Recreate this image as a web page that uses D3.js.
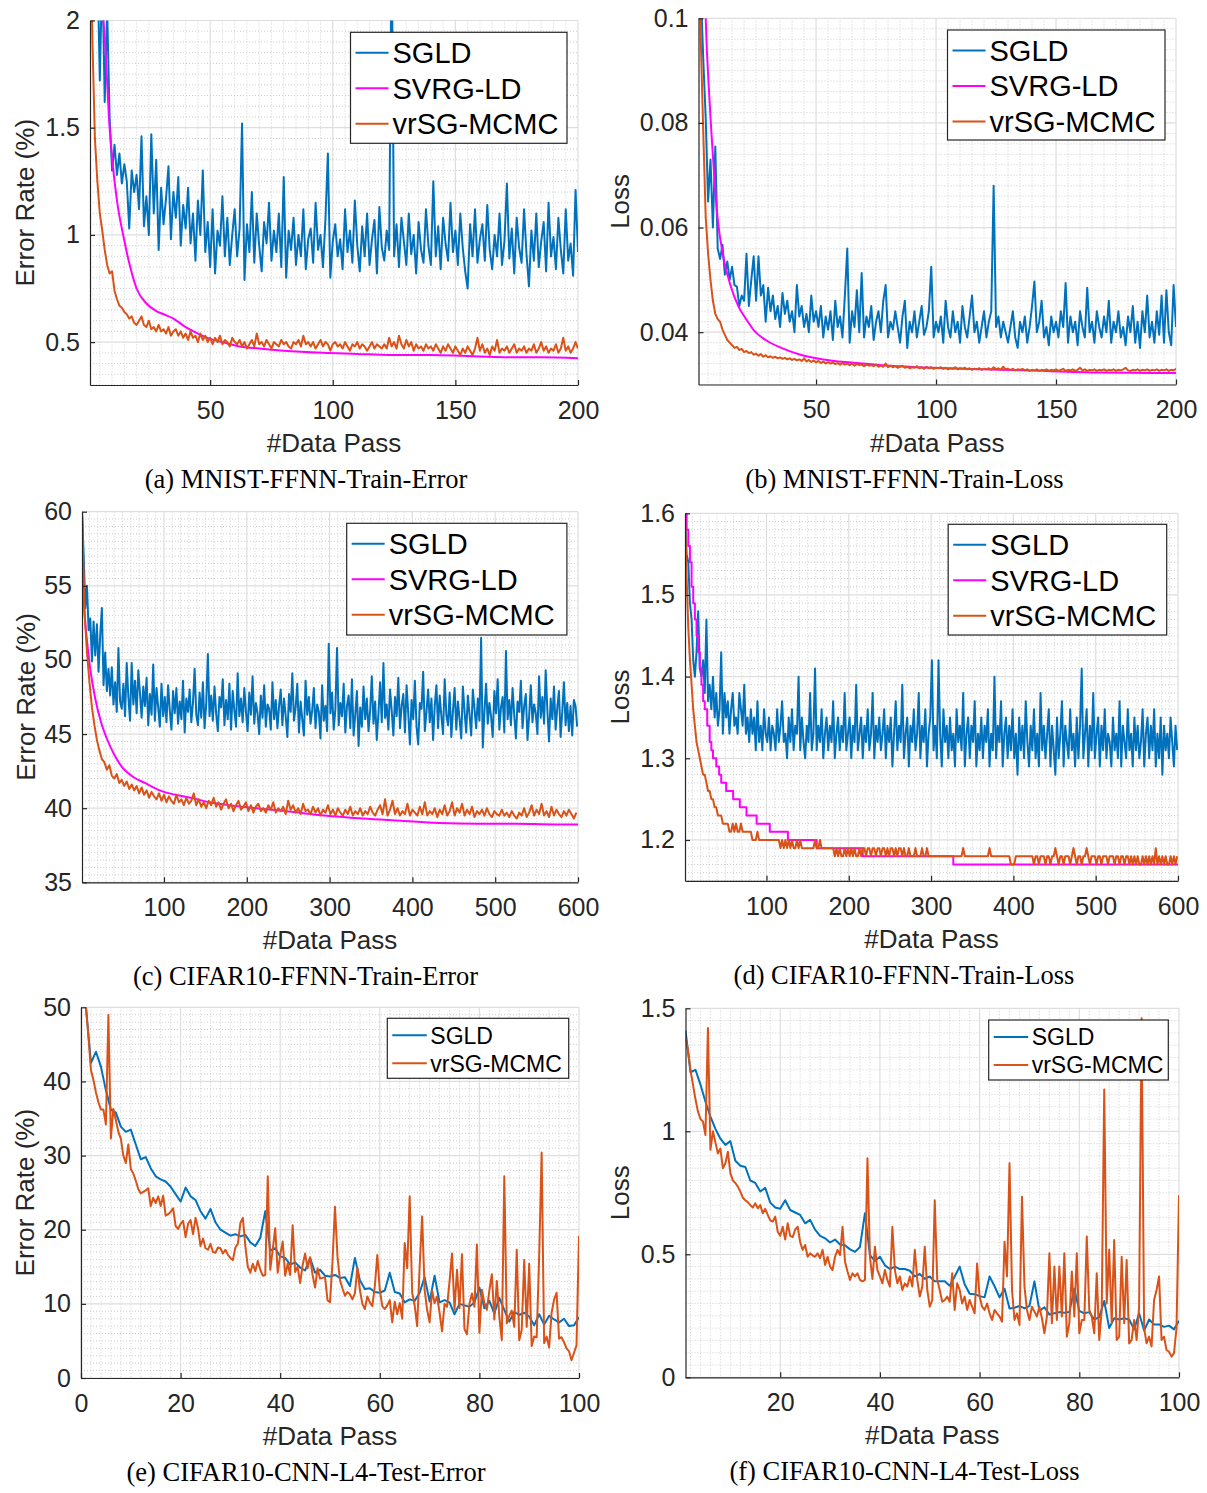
<!DOCTYPE html>
<html>
<head>
<meta charset="utf-8">
<script src="https://cdn.jsdelivr.net/npm/d3@7"></script>
<style>
  body { margin: 0; background: #fff; }
  svg { display: block; }
</style>
</head>
<body>
<script>
// ---------- data ----------
const seriesNames = ["SGLD", "SVRG-LD", "vrSG-MCMC"];

// (a) MNIST-FFNN-Train-Error, one value per data pass (1..200)
const aSgld = [
  3.6, 3.1, 2.7, 2.3, 1.72, 2.25, 1.62, 2.05, 1.55, 1.3,
  1.42, 1.28, 1.38, 1.24, 1.33, 1.25, 1.03, 1.3, 1.2, 1.28,
  1.12, 1.46, 1.04, 1.18, 1.0, 1.47, 1.1, 1.35, 0.93, 1.22,
  1.05, 1.17, 1.32, 0.98, 1.2, 1.08, 1.27, 0.95, 1.14, 1.03,
  1.22, 0.96, 1.1, 0.88, 1.16, 1.0, 1.3, 0.92, 1.06, 0.85,
  1.12, 0.82, 1.02, 0.95, 1.18, 0.9, 1.08, 0.86, 1.0, 1.12,
  0.9, 1.03, 1.52, 0.79, 1.05, 0.92, 1.2, 0.87, 1.1, 0.95,
  0.83, 1.06, 0.96, 1.15, 0.88, 1.02, 0.92, 1.1, 0.85, 1.27,
  0.8, 1.02, 0.93, 1.08, 0.86, 1.0, 0.9, 1.12, 0.84, 0.98,
  1.03, 0.87, 1.15, 0.93, 1.0, 0.85, 1.07, 1.38, 0.8, 0.97,
  1.05, 0.9, 0.98, 0.84, 1.12, 0.92, 1.02, 0.87, 1.16, 0.95,
  0.83, 1.04, 0.9, 1.1, 0.86, 0.98, 1.07, 0.82, 1.13, 0.94,
  0.88, 1.02, 0.93, 2.4, 0.9, 1.05, 0.85, 1.08, 0.97, 0.86,
  1.1, 0.91, 1.0, 0.82, 1.06, 0.93, 0.87, 1.12, 0.95, 0.86,
  1.25, 0.9, 1.04, 0.84, 1.08, 0.96, 0.88, 1.15, 0.92, 1.02,
  0.86, 1.1, 0.94, 0.83, 0.75, 1.05, 0.9, 1.12, 0.87, 0.98,
  1.05, 0.88, 1.14, 0.93, 0.84, 1.0, 0.9, 1.1, 0.86, 0.97,
  1.24, 0.89, 1.03, 0.82, 1.08, 0.94, 0.87, 1.12, 0.91, 0.76,
  1.02, 0.88, 1.1, 0.85, 0.97, 1.06, 0.83, 1.15, 0.9, 0.99,
  0.84, 1.08, 0.93, 0.82, 1.12, 0.88, 0.96, 0.81, 1.21, 0.92
];
const aVr = [
  2.6, 1.9, 1.45, 1.25, 1.1, 1.02, 0.93, 0.86, 0.82, 0.83,
  0.74, 0.7, 0.67, 0.66, 0.64, 0.63, 0.61, 0.62, 0.59, 0.58,
  0.6, 0.62, 0.58, 0.57, 0.6, 0.56, 0.57, 0.55, 0.58, 0.55,
  0.56, 0.54, 0.57, 0.53, 0.55, 0.56, 0.53, 0.55, 0.52, 0.54,
  0.51, 0.55, 0.52, 0.53, 0.5, 0.54, 0.51, 0.53, 0.5, 0.52,
  0.49, 0.52, 0.5, 0.53, 0.49, 0.51, 0.5, 0.48, 0.52, 0.5,
  0.49, 0.51, 0.48, 0.5, 0.47, 0.49, 0.51, 0.48, 0.54, 0.49,
  0.5, 0.48, 0.51, 0.49, 0.47, 0.5, 0.49, 0.48, 0.51, 0.49,
  0.5, 0.48, 0.47, 0.5, 0.49, 0.51, 0.48, 0.53, 0.49, 0.5,
  0.48, 0.5, 0.47, 0.49, 0.51, 0.48, 0.5, 0.49, 0.46, 0.49,
  0.5, 0.48, 0.49, 0.47, 0.5, 0.48, 0.46, 0.49, 0.48, 0.5,
  0.47, 0.49, 0.48, 0.46, 0.48, 0.5, 0.47, 0.49, 0.48, 0.47,
  0.49, 0.47, 0.52, 0.48, 0.5, 0.47, 0.53, 0.49, 0.47, 0.51,
  0.48, 0.5, 0.46, 0.49, 0.47, 0.48, 0.46, 0.49, 0.47, 0.48,
  0.46, 0.49, 0.47, 0.45, 0.48, 0.46, 0.49, 0.47, 0.45, 0.48,
  0.46, 0.44, 0.47, 0.45, 0.48, 0.46, 0.44, 0.47, 0.52, 0.46,
  0.49, 0.45, 0.47, 0.44, 0.48, 0.46, 0.51, 0.45, 0.47, 0.46,
  0.48, 0.45, 0.47, 0.49, 0.45, 0.47, 0.46, 0.48, 0.45, 0.47,
  0.46, 0.49, 0.45, 0.47, 0.5, 0.46, 0.48, 0.45, 0.47, 0.46,
  0.49, 0.45, 0.47, 0.52, 0.46, 0.48, 0.45, 0.47, 0.5, 0.47
];
const aSvrgX = [1, 3, 5, 6.5, 7.4, 8.7, 10.1, 12, 14.7, 17.4, 20, 24, 28, 31, 35, 40, 45, 50, 55, 62, 70, 80, 96, 110, 123, 140, 155, 170, 185, 200];
const aSvrgY = [5, 3.2, 2.35, 2.0, 1.85, 1.55, 1.35, 1.16, 0.99, 0.85, 0.75, 0.68, 0.645, 0.63, 0.61, 0.57, 0.54, 0.515, 0.5, 0.48, 0.47, 0.46, 0.45, 0.445, 0.44, 0.44, 0.435, 0.43, 0.43, 0.425];

// (b) MNIST-FFNN-Train-Loss, per data pass (1..200)
const bSgld = [
  0.125, 0.105, 0.092, 0.081, 0.065, 0.073, 0.06, 0.0755, 0.056, 0.054,
  0.0567, 0.051, 0.0535, 0.05, 0.0525, 0.049, 0.0487, 0.045, 0.047, 0.046,
  0.055, 0.045, 0.05, 0.0545, 0.046, 0.0545, 0.047, 0.049, 0.042, 0.0485,
  0.044, 0.047, 0.0425, 0.045, 0.041, 0.0475, 0.0435, 0.046, 0.042, 0.044,
  0.04, 0.049, 0.043, 0.045, 0.041, 0.0435, 0.04, 0.047, 0.042, 0.044,
  0.041, 0.045, 0.039, 0.043, 0.0405, 0.044, 0.0385, 0.046, 0.041, 0.043,
  0.039, 0.047, 0.056, 0.038, 0.044, 0.041, 0.048, 0.04, 0.0513, 0.039,
  0.043, 0.041, 0.045, 0.0385, 0.042, 0.044, 0.04, 0.046, 0.049, 0.039,
  0.042, 0.0405, 0.044, 0.041, 0.038, 0.043, 0.046, 0.037, 0.042, 0.04,
  0.044, 0.039, 0.042, 0.045, 0.0395, 0.041, 0.044, 0.0525, 0.039, 0.042,
  0.04, 0.043, 0.038, 0.046, 0.041, 0.039, 0.044, 0.04, 0.042, 0.038,
  0.045, 0.041, 0.039, 0.043, 0.047, 0.04, 0.042, 0.038, 0.041, 0.044,
  0.039, 0.042, 0.044, 0.068, 0.041, 0.043, 0.039, 0.042, 0.04, 0.038,
  0.041, 0.044, 0.039, 0.037, 0.042, 0.04, 0.043, 0.038, 0.041, 0.045,
  0.0497, 0.04, 0.042, 0.046, 0.039, 0.041, 0.0375, 0.043, 0.04, 0.042,
  0.039, 0.044, 0.041, 0.0494, 0.038, 0.043, 0.04, 0.042, 0.0375, 0.044,
  0.041, 0.039, 0.0485, 0.04, 0.042, 0.038, 0.044, 0.041, 0.039, 0.043,
  0.04, 0.046, 0.038, 0.042, 0.04, 0.044, 0.039, 0.041, 0.0375, 0.043,
  0.04, 0.045, 0.038, 0.042, 0.037, 0.044, 0.04, 0.047, 0.039, 0.042,
  0.038, 0.044, 0.0395, 0.047, 0.038, 0.048, 0.04, 0.0375, 0.049, 0.041
];
const bVr = [
  0.13, 0.095, 0.078, 0.062, 0.055, 0.05, 0.046, 0.0435, 0.0425, 0.042,
  0.0405, 0.0395, 0.0385, 0.038, 0.0375, 0.037, 0.0372, 0.0366, 0.0368, 0.0362,
  0.0364, 0.0360, 0.0362, 0.0357, 0.0359, 0.0355, 0.0358, 0.0353, 0.0356, 0.0352,
  0.0354, 0.0351, 0.0353, 0.0350, 0.0352, 0.0349, 0.0351, 0.0348, 0.0350, 0.0347,
  0.0349, 0.0346, 0.0348, 0.0345, 0.0350, 0.0344, 0.0347, 0.0343, 0.0346, 0.0342,
  0.0345, 0.0341, 0.0344, 0.0340, 0.0343, 0.0340, 0.0342, 0.0339, 0.0341, 0.0338,
  0.0341, 0.0338, 0.0340, 0.0337, 0.0340, 0.0336, 0.0339, 0.0337, 0.0338, 0.0335,
  0.0338, 0.0336, 0.0337, 0.0335, 0.0338, 0.0334, 0.0336, 0.0334, 0.0340, 0.0333,
  0.0336, 0.0333, 0.0335, 0.0332, 0.0334, 0.0336, 0.0332, 0.0334, 0.0331, 0.0333,
  0.0332, 0.0335, 0.0331, 0.0333, 0.0330, 0.0334, 0.0331, 0.0333, 0.0330, 0.0332,
  0.0331, 0.0333, 0.0330, 0.0332, 0.0329, 0.0331, 0.0330, 0.0333, 0.0329, 0.0331,
  0.0330, 0.0332, 0.0329, 0.0331, 0.0328, 0.0330, 0.0329, 0.0331, 0.0328, 0.0330,
  0.0329, 0.0331, 0.0328, 0.0333, 0.0329, 0.0331, 0.0328, 0.0334, 0.0329, 0.0330,
  0.0328, 0.0330, 0.0327, 0.0329, 0.0328, 0.0330, 0.0327, 0.0329, 0.0326, 0.0328,
  0.0327, 0.0329, 0.0326, 0.0328, 0.0327, 0.0329, 0.0326, 0.0328, 0.0327, 0.0329,
  0.0326, 0.0328, 0.0330, 0.0326, 0.0328, 0.0327, 0.0329, 0.0326, 0.0328, 0.0332,
  0.0327, 0.0329, 0.0326, 0.0328, 0.0327, 0.0329, 0.0326, 0.0328, 0.0327, 0.0329,
  0.0326, 0.0328, 0.0327, 0.0329, 0.0326, 0.0328, 0.0327, 0.0329, 0.0332, 0.0327,
  0.0326, 0.0328, 0.0327, 0.0329, 0.0326, 0.0328, 0.0327, 0.0329, 0.0326, 0.0328,
  0.0327, 0.0329, 0.0326, 0.0328, 0.0327, 0.0329, 0.0326, 0.0328, 0.0327, 0.0330
];
const bSvrgX = [1, 3, 4, 5.6, 7.3, 8.9, 11.3, 14.5, 17.7, 21, 24, 29, 35.5, 43.5, 53, 64.5, 80.6, 105, 137, 169, 200];
const bSvrgY = [0.2, 0.12, 0.1, 0.0844, 0.0717, 0.0621, 0.0545, 0.0487, 0.0449, 0.0424, 0.0404, 0.0385, 0.037, 0.0357, 0.0348, 0.0342, 0.0336, 0.0331, 0.0327, 0.0323, 0.0322];

// (c) CIFAR10-FFNN-Train-Error; SGLD every 2 passes from 1, vrSG every 3 passes from 1
const cSgld = [
  60, 57.1, 53.5, 55, 52, 52.8, 49.9, 52.6, 50.3, 52.4, 49.2, 51.7, 53.5, 48.3, 50.5, 47.9, 49.4, 47.6, 49.5, 47,
  48.5, 46.5, 50.8, 47.2, 46.7, 48.4, 46.2, 49.8, 47.5, 45.9, 49.8, 47, 48.6, 46.4, 49.3, 47.8, 46.1, 48.2, 46.9, 48.8,
  45.6, 47.7, 46.3, 49.7, 45.9, 48.1, 46.8, 45.5, 48.4, 46.2, 47.5, 45.8, 48.3, 46.6, 45.3, 47.9, 46.4, 48.1, 45.7, 47.2,
  46, 48.6, 45.1, 47.4, 46.5, 48, 45.8, 47.1, 49.4, 46.3, 45.6, 47.8, 46.1, 48.5, 45.4, 47, 50.4, 46.2, 47.6, 45.9,
  48.2, 46.4, 45.2, 47.5, 46.8, 48.7, 45.6, 47.3, 46, 48.4, 45.3, 47.9, 46.6, 45.5, 49.1, 46.2, 47.4, 45.8, 48.1, 46.5,
  45.2, 47.8, 46.3, 48.9, 45.7, 47.1, 46.4, 45, 47.6, 46.1, 48.3, 45.5, 47, 46.7, 45.3, 48.5, 46, 47.3, 45.4, 46.9,
  48, 45.6, 47.4, 46.2, 44.8, 47.7, 46.5, 49.1, 45.9, 46.8, 48.4, 45.1, 47.2, 46, 44.9, 48.6, 46.3, 47.5, 45.7, 46.6,
  48.1, 45.4, 47, 46.5, 44.7, 48.3, 45.9, 46.9, 45.2, 51.1, 46.4, 47.8, 45.3, 46.7, 50.8, 45.6, 47.1, 46.2, 48.4, 45.1,
  46.9, 47.6, 45.4, 48.7, 44.9, 46.3, 47.9, 44.2, 46.8, 45.5, 48.2, 46, 47.4, 45.2, 46.6, 48.9, 45.7, 47.2, 44.6, 46.4,
  48.5, 45.8, 49.8, 46.1, 47, 45.3, 48, 46.6, 44.9, 47.5, 46.2, 48.8, 45.4, 46.9, 47.7, 45.1, 48.3, 46.4, 44.3, 47.3,
  46, 48.6, 45.5, 44.3, 47.1, 46.7, 49.2, 45.2, 46.5, 48, 45.8, 47.4, 44.6, 46.9, 48.3, 45.4, 47.6, 46.2, 45, 48.7,
  46.3, 45.6, 47.8, 44.8, 46.6, 48.1, 45.3, 47.2, 46, 44.7, 48.2, 46.5, 45.1, 47.6, 46.3, 44.9, 48, 46.7, 45.4, 47.4,
  45.9, 51.5, 44.1, 46.5, 48.4, 45.7, 47.1, 46.2, 44.8, 47.9, 46.4, 48.7, 45.3, 46.8, 47.5, 45.1, 50.6, 46, 47.3, 45.6,
  48.1, 46.3, 44.7, 47.2, 46.5, 48.6, 45.4, 46.9, 47.7, 44.6, 46.2, 48.3, 45.8, 47, 46.4, 45, 48.9, 46.1, 47.5, 45.7,
  49.3, 46.6, 44.5, 47.4, 46, 48.2, 45.3, 46.8, 47.9, 44.8, 46.5, 48.5, 45.6, 47.1, 45.2, 46.9, 44.9, 47.3, 46.9, 45.5
];
const cVr = [
  60, 53.3, 50.5, 48.5, 46.8, 45.6, 44.6, 43.9, 43.3, 43.1, 42.6, 42.9, 42.2, 42.0, 42.3, 41.7, 41.9, 41.5, 41.8, 41.3,
  41.6, 41.2, 41.5, 41.0, 41.4, 40.9, 41.2, 40.7, 41.1, 40.8, 40.6, 41.0, 40.5, 40.9, 40.4, 40.8, 40.5, 40.3, 40.9, 40.4,
  40.6, 40.2, 40.7, 40.3, 40.5, 41.0, 40.2, 40.6, 40.1, 40.4, 40.0, 40.5, 40.2, 40.7, 40.1, 40.4, 39.9, 40.3, 40.6, 40.0,
  40.3, 39.8, 40.2, 40.5, 39.9, 40.1, 40.4, 39.8, 40.2, 39.7, 40.1, 40.3, 39.8, 40.0, 39.7, 40.2, 39.9, 40.4, 39.7, 40.0,
  39.8, 40.1, 39.6, 40.5, 39.9, 40.2, 39.7, 40.0, 39.6, 40.3, 39.8, 39.9, 39.6, 40.1, 39.7, 40.0, 39.5, 39.9, 39.7, 40.2,
  39.6, 39.9, 39.5, 40.0, 39.7, 39.5, 39.9, 39.6, 40.1, 39.5, 39.8, 39.6, 40.0, 39.5, 39.8, 39.6, 40.1, 39.7, 39.5, 39.9,
  40.2, 39.6, 40.6, 39.5, 39.9, 40.5, 39.6, 40.0, 39.5, 39.8, 39.6, 40.3, 39.5, 39.9, 39.7, 39.5, 40.1, 39.6, 40.4, 39.5,
  39.8, 39.6, 40.0, 39.4, 39.9, 39.6, 40.2, 39.5, 39.8, 40.4, 39.5, 40.0, 39.7, 40.3, 39.5, 39.9, 39.6, 40.1, 39.4, 39.8,
  39.6, 39.9, 39.5, 40.0, 39.6, 39.4, 39.8, 39.6, 39.5, 39.9, 39.5, 39.7, 39.4, 39.8, 39.5, 39.3, 39.7, 39.5, 40.0, 39.4,
  39.7, 40.2, 39.5, 39.9, 39.6, 40.3, 39.5, 39.8, 39.4, 40.1, 39.5, 39.9, 39.6, 39.4, 39.8, 39.5, 39.9, 39.6, 39.3, 39.7
];
const cSvrgX = [1, 3, 7.6, 12, 17, 24, 31, 40, 49, 63, 77, 95, 114, 132, 155, 202, 248, 294, 340, 386, 432, 479, 525, 571, 600];
const cSvrgY = [60, 54.4, 51, 49, 47.4, 45.8, 44.7, 43.6, 42.8, 42.1, 41.7, 41.2, 40.9, 40.7, 40.4, 40.05, 39.8, 39.5, 39.3, 39.15, 39.0, 38.95, 38.95, 38.9, 38.9];

// (d) CIFAR10-FFNN-Train-Loss; every 2 passes from 1 (values logged to 2 decimals)
const dSgld = [
  1.6, 1.55, 1.54, 1.49, 1.47, 1.42, 1.4, 1.43, 1.48, 1.41, 1.4, 1.42, 1.38, 1.47, 1.37, 1.39, 1.36, 1.4, 1.35, 1.38,
  1.34, 1.36, 1.43, 1.33, 1.38, 1.35, 1.37, 1.33, 1.36, 1.38, 1.34, 1.35, 1.33, 1.38, 1.36, 1.34, 1.39, 1.33, 1.35, 1.32,
  1.36, 1.33, 1.35, 1.31, 1.37, 1.32, 1.34, 1.31, 1.36, 1.33, 1.32, 1.35, 1.31, 1.34, 1.33, 1.31, 1.36, 1.32, 1.34, 1.37,
  1.32, 1.33, 1.3, 1.35, 1.32, 1.36, 1.31, 1.34, 1.33, 1.4, 1.31, 1.35, 1.32, 1.3, 1.34, 1.32, 1.38, 1.31, 1.33, 1.41,
  1.31, 1.34, 1.32, 1.36, 1.3, 1.33, 1.35, 1.31, 1.34, 1.32, 1.37, 1.3, 1.33, 1.35, 1.31, 1.34, 1.32, 1.38, 1.31, 1.33,
  1.35, 1.3, 1.34, 1.32, 1.39, 1.31, 1.33, 1.35, 1.3, 1.34, 1.32, 1.36, 1.31, 1.33, 1.38, 1.3, 1.34, 1.32, 1.35, 1.31,
  1.33, 1.36, 1.3, 1.34, 1.32, 1.35, 1.29, 1.33, 1.37, 1.31, 1.34, 1.32, 1.39, 1.3, 1.33, 1.35, 1.29, 1.34, 1.32, 1.36,
  1.31, 1.33, 1.38, 1.3, 1.34, 1.32, 1.36, 1.29, 1.33, 1.35, 1.42, 1.31, 1.34, 1.3, 1.42, 1.33, 1.29, 1.36, 1.32, 1.34,
  1.3, 1.35, 1.31, 1.33, 1.29, 1.36, 1.32, 1.34, 1.31, 1.38, 1.29, 1.33, 1.35, 1.3, 1.34, 1.32, 1.37, 1.29, 1.33, 1.31,
  1.35, 1.3, 1.34, 1.32, 1.36, 1.29, 1.33, 1.31, 1.4, 1.3, 1.34, 1.32, 1.37, 1.29, 1.33, 1.35, 1.3, 1.34, 1.31, 1.36,
  1.3, 1.33, 1.28, 1.35, 1.31, 1.34, 1.3, 1.37, 1.32, 1.29, 1.34, 1.31, 1.36, 1.3, 1.33, 1.29, 1.38, 1.31, 1.34, 1.3,
  1.33, 1.36, 1.29, 1.34, 1.31, 1.28, 1.35, 1.3, 1.33, 1.37, 1.29, 1.34, 1.32, 1.3, 1.36, 1.31, 1.33, 1.29, 1.35, 1.3,
  1.34, 1.41, 1.3, 1.33, 1.36, 1.29, 1.34, 1.31, 1.38, 1.3, 1.33, 1.35, 1.29, 1.34, 1.31, 1.36, 1.3, 1.33, 1.32, 1.29,
  1.35, 1.31, 1.33, 1.3, 1.37, 1.29, 1.34, 1.32, 1.3, 1.36, 1.31, 1.33, 1.29, 1.35, 1.31, 1.34, 1.3, 1.32, 1.36, 1.29,
  1.33, 1.35, 1.3, 1.34, 1.31, 1.36, 1.29, 1.33, 1.3, 1.35, 1.28, 1.34, 1.31, 1.33, 1.3, 1.35, 1.32, 1.29, 1.34, 1.31
];
const dVr = [
  1.6, 1.52, 1.46, 1.42, 1.39, 1.36, 1.34, 1.32, 1.31, 1.3, 1.29, 1.28, 1.28, 1.27, 1.26, 1.26, 1.25, 1.25, 1.24, 1.24,
  1.23, 1.23, 1.23, 1.22, 1.22, 1.22, 1.22, 1.21, 1.21, 1.22, 1.21, 1.22, 1.21, 1.21, 1.22, 1.21, 1.21, 1.21, 1.21, 1.21,
  1.21, 1.2, 1.2, 1.2, 1.21, 1.2, 1.2, 1.2, 1.2, 1.2, 1.2, 1.2, 1.2, 1.2, 1.2, 1.2, 1.2, 1.2, 1.19, 1.2,
  1.19, 1.2, 1.19, 1.2, 1.19, 1.2, 1.19, 1.19, 1.2, 1.19, 1.2, 1.19, 1.19, 1.19, 1.19, 1.19, 1.19, 1.19, 1.19, 1.2,
  1.19, 1.19, 1.2, 1.19, 1.19, 1.19, 1.19, 1.19, 1.19, 1.19, 1.19, 1.18, 1.19, 1.18, 1.19, 1.18, 1.18, 1.19, 1.18, 1.19,
  1.18, 1.19, 1.18, 1.19, 1.18, 1.18, 1.19, 1.18, 1.19, 1.19, 1.18, 1.19, 1.19, 1.18, 1.19, 1.19, 1.18, 1.19, 1.19, 1.18,
  1.19, 1.19, 1.18, 1.19, 1.18, 1.19, 1.19, 1.18, 1.19, 1.18, 1.19, 1.19, 1.18, 1.19, 1.18, 1.18, 1.19, 1.18, 1.18, 1.18,
  1.19, 1.18, 1.18, 1.18, 1.19, 1.18, 1.18, 1.19, 1.18, 1.18, 1.18, 1.18, 1.18, 1.18, 1.18, 1.18, 1.18, 1.18, 1.18, 1.18,
  1.18, 1.18, 1.18, 1.18, 1.18, 1.18, 1.18, 1.18, 1.18, 1.19, 1.18, 1.18, 1.18, 1.18, 1.18, 1.18, 1.18, 1.18, 1.18, 1.18,
  1.18, 1.18, 1.18, 1.18, 1.18, 1.19, 1.18, 1.18, 1.18, 1.18, 1.18, 1.18, 1.18, 1.18, 1.18, 1.18, 1.18, 1.18, 1.17, 1.17,
  1.17, 1.18, 1.18, 1.18, 1.18, 1.18, 1.18, 1.18, 1.18, 1.18, 1.18, 1.18, 1.17, 1.18, 1.18, 1.17, 1.18, 1.18, 1.18, 1.17,
  1.18, 1.18, 1.17, 1.18, 1.18, 1.19, 1.18, 1.17, 1.18, 1.18, 1.17, 1.18, 1.18, 1.18, 1.17, 1.18, 1.19, 1.18, 1.17, 1.18,
  1.18, 1.17, 1.18, 1.18, 1.19, 1.18, 1.17, 1.18, 1.18, 1.18, 1.17, 1.18, 1.18, 1.17, 1.18, 1.18, 1.18, 1.17, 1.18, 1.18,
  1.18, 1.17, 1.18, 1.18, 1.17, 1.18, 1.18, 1.17, 1.18, 1.18, 1.17, 1.18, 1.17, 1.18, 1.17, 1.18, 1.17, 1.17, 1.18, 1.17,
  1.18, 1.17, 1.18, 1.17, 1.18, 1.17, 1.19, 1.17, 1.18, 1.17, 1.18, 1.17, 1.18, 1.17, 1.17, 1.18, 1.17, 1.18, 1.17, 1.18
];
const dSvrgX = [1, 3, 5, 7, 9, 11, 13, 15, 17, 19, 21, 23, 25, 28, 31, 33, 35, 39, 42.5, 45, 51, 59.5, 67.6, 75.7, 88, 104, 126, 161, 217, 327, 600];
const dSvrgY = [1.6, 1.58, 1.56, 1.54, 1.51, 1.49, 1.47, 1.45, 1.43, 1.41, 1.39, 1.37, 1.36, 1.34, 1.32, 1.31, 1.30, 1.29, 1.28, 1.27, 1.26, 1.25, 1.24, 1.23, 1.22, 1.21, 1.20, 1.19, 1.18, 1.17, 1.17];

// (e) CIFAR10-CNN-L4-Test-Error; SGLD per pass (1..100), vrSG every half pass (1..100)
const eSgld = [
  50, 42.5, 44, 42, 38.8, 36.2, 35.8, 33.9, 33.2, 33.5,
  31.5, 29.5, 29.8, 28.3, 27.2, 26.8, 26.5, 25.8, 24.8, 23.8,
  25.7, 24.5, 24, 22.5, 21.5, 22.8, 21, 20, 19.6, 19.2,
  19.4, 19.1, 19.3, 18.3, 17.8, 18.9, 22.5, 17.2, 17.5, 16.4,
  16.2, 15.3, 15.6, 14.9, 14.5, 16.2, 14.2, 14.6, 13.8, 13.7,
  13.9, 13.5, 13.6, 12.4, 16.2, 13.2, 12, 12.1, 11.6, 11.5,
  11.8, 14.2, 11.6, 11.4, 10.2, 10.6, 10.4, 11.5, 13.6, 10.3,
  13.8, 10.2, 10.5, 10.2, 8.6, 10, 9.8, 9.6, 10.2, 12.2,
  9.4, 10.4, 8.7, 10.8, 9.2, 7.6, 8.9, 8.5, 8.8, 8.3,
  7.1, 8.6, 7.2, 8.4, 7.9, 7.5, 8, 7, 7.1, 8.2
];
const eVr = [
  50, 46, 41.5, 40.2, 38.5, 37.2, 36.2, 36.2, 34.2, 49,
  32.3, 36.3, 34.8, 33.2, 32.3, 30, 29, 31.5, 28.2, 27.6,
  26.6, 25.5, 24.9, 25.1, 25.3, 25.6, 23.2, 24.3, 23.6, 24.5,
  23.2, 24.6, 21.9, 22.1, 22.4, 22.9, 20.5, 20.1, 20.8, 21.2,
  19, 20.8, 21.3, 19.4, 21.6, 20.2, 17.8, 18.8, 17.5, 17.3,
  18.1, 17, 16.9, 17.6, 17.5, 16.8, 17.3, 16.6, 16.2, 15.9,
  17.6, 18.1, 20.9, 21.6, 17.8, 15, 14.2, 15.4, 14.4, 15.8,
  14.6, 13.8, 13.9, 27.2, 14.6, 17.3, 20.2, 14.2, 16.6, 18.4,
  13.8, 15.4, 13.9, 20.6, 14.3, 15, 12.8, 15.2, 16.8, 14.8,
  16.3, 13.9, 12.2, 14.8, 13.4, 13.5, 13.6, 10.5, 10.2, 15.6,
  23.1, 16.4, 13.2, 12.1, 11.1, 11.6, 11.3, 10.6, 11.4, 14.9,
  11.9, 10, 9.3, 11, 10.2, 9.7, 12.4, 16.6, 11.9, 9.7,
  9.3, 9.8, 10.5, 7.5, 10.3, 8.6, 10.1, 8, 18.2, 14.8,
  24.5, 11.5, 9.8, 7, 15, 21.8, 11.9, 9.2, 7.5, 11.8,
  10.1, 11, 8.8, 6.3, 10, 9.6, 13, 16.8, 9.2, 14.6,
  9.4, 16.7, 6.6, 5.9, 10, 11.4, 9.6, 18, 6.1, 11.9,
  10.1, 9.2, 11.8, 14, 7.9, 13.1, 8.3, 5.1, 27.2, 7.4,
  8.4, 9.1, 6.9, 17.3, 5.1, 6.5, 15.9, 6.9, 15.4, 4.3,
  5.6, 5.5, 16.4, 30.4, 4.7, 5.6, 4.1, 8.8, 10.6, 11.5,
  5.3, 5.5, 4.8, 4, 3.6, 2.4, 3.4, 4.4, 19.2
];

// (f) CIFAR10-CNN-L4-Test-Loss; SGLD per pass, vrSG every half pass
const fSgld = [
  1.41, 1.24, 1.25, 1.19, 1.12, 1.06, 1.01, 0.97, 0.945, 0.96,
  0.88, 0.86, 0.855, 0.8, 0.79, 0.755, 0.77, 0.71, 0.69, 0.685,
  0.72, 0.68, 0.67, 0.66, 0.626, 0.64, 0.6, 0.575, 0.565, 0.548,
  0.56, 0.54, 0.537, 0.52, 0.51, 0.53, 0.667, 0.497, 0.473, 0.49,
  0.455, 0.44, 0.45, 0.44, 0.44, 0.433, 0.41, 0.42, 0.4, 0.41,
  0.39, 0.39, 0.39, 0.372, 0.41, 0.45, 0.378, 0.34, 0.338, 0.33,
  0.325, 0.41, 0.37, 0.325, 0.36, 0.28, 0.283, 0.29, 0.28, 0.29,
  0.39, 0.27, 0.285, 0.255, 0.26, 0.265, 0.262, 0.265, 0.36, 0.27,
  0.26, 0.265, 0.235, 0.245, 0.31, 0.2, 0.24, 0.235, 0.24, 0.235,
  0.195, 0.26, 0.19, 0.235, 0.215, 0.215, 0.205, 0.21, 0.195, 0.23
];
const fVr = [
  1.38, 1.33, 1.25, 1.19, 1.13, 1.08, 1.05, 1.04, 0.985, 1.42,
  0.925, 1.0, 0.955, 0.91, 0.93, 0.85, 0.87, 0.917, 0.83, 0.8,
  0.79, 0.775, 0.755, 0.73, 0.72, 0.712, 0.7, 0.69, 0.707, 0.687,
  0.7, 0.667, 0.685, 0.66, 0.638, 0.633, 0.653, 0.592, 0.575, 0.612,
  0.56, 0.626, 0.575, 0.57, 0.6, 0.612, 0.55, 0.518, 0.538, 0.49,
  0.504, 0.495, 0.49, 0.504, 0.484, 0.518, 0.457, 0.49, 0.45, 0.436,
  0.49, 0.518, 0.497, 0.612, 0.47, 0.43, 0.396, 0.423, 0.41, 0.423,
  0.396, 0.39, 0.396, 0.89, 0.49, 0.4, 0.531, 0.436, 0.41, 0.382,
  0.436, 0.396, 0.369, 0.612, 0.436, 0.382, 0.41, 0.355, 0.382, 0.369,
  0.41, 0.369, 0.518, 0.396, 0.328, 0.369, 0.531, 0.355, 0.287, 0.314,
  0.72, 0.396, 0.355, 0.307, 0.314, 0.328, 0.307, 0.423, 0.274, 0.382,
  0.355, 0.3, 0.328, 0.274, 0.314, 0.287, 0.26, 0.463, 0.328, 0.287,
  0.274, 0.3, 0.26, 0.233, 0.274, 0.26, 0.247, 0.226, 0.551, 0.41,
  0.87, 0.355, 0.233, 0.26, 0.213, 0.734, 0.369, 0.274, 0.233, 0.287,
  0.267, 0.247, 0.287, 0.24, 0.179, 0.247, 0.504, 0.22, 0.45, 0.233,
  0.45, 0.247, 0.504, 0.165, 0.22, 0.43, 0.247, 0.504, 0.179, 0.233,
  0.233, 0.572, 0.274, 0.247, 0.179, 0.423, 0.152, 0.274, 1.17, 0.3,
  0.518, 0.22, 0.558, 0.152, 0.165, 0.49, 0.22, 0.477, 0.138, 0.152,
  0.233, 0.152, 0.287, 1.46, 0.2, 0.138, 0.165, 0.125, 0.314, 0.355,
  0.41, 0.152, 0.165, 0.111, 0.104, 0.084, 0.098, 0.2, 0.74
];

// tick values
const xTicks200 = [50, 100, 150, 200];
const xTicks600 = [100, 200, 300, 400, 500, 600];
const xTicksE = [0, 20, 40, 60, 80, 100];
const xTicksF = [20, 40, 60, 80, 100];
const yTicksA = [0.5, 1, 1.5, 2];
const yTicksB = [0.04, 0.06, 0.08, 0.1];
const yTicksC = [35, 40, 45, 50, 55, 60];
const yTicksD = [1.2, 1.3, 1.4, 1.5, 1.6];
const yTicksE = [0, 10, 20, 30, 40, 50];
const yTicksF = [0, 0.5, 1, 1.5];

// ---------- drawing ----------
const W = 1207, H = 1493;
const SANS = "'Liberation Sans', Arial, Helvetica, sans-serif";
const SERIF = "'Liberation Serif', 'Times New Roman', serif";
const AX = "#262626";
const col = { SGLD: "#0072BD", "SVRG-LD": "#FF00FF", "vrSG-MCMC": "#D95319" };

const svg = d3.select("body").append("svg")
  .attr("width", W).attr("height", H)
  .attr("viewBox", [0, 0, W, H]);

const bigLegend = { fs: 29, r0: 20.5, dr: 35.5, l0: 5, l1: 38, tx: 42 };
const smallLegend = { fs: 23, r0: 17, dr: 28, l0: 5, l1: 39.5, tx: 43 };

const panels = [
  {
    box: [90, 578, 20.5, 385], xDom: [1, 200], yDom: [0.3, 2],
    xTicks: xTicks200, yTicks: yTicksA, xMinor: 5, yMinor: 0.05,
    ylabel: "Error Rate (%)", ylabX: 34, capX: 306, caption: "(a) MNIST-FFNN-Train-Error",
    legend: Object.assign({ x: 350.5, y: 32.3, w: 216.5, h: 111 }, bigLegend),
    series: [
      { name: "SGLD", ys: aSgld, x0: 1, step: 1 },
      { name: "SVRG-LD", xs: aSvrgX, ys: aSvrgY, curve: d3.curveMonotoneX },
      { name: "vrSG-MCMC", ys: aVr, x0: 1, step: 1 }
    ]
  },
  {
    box: [698.5, 1176, 18.3, 384.5], xDom: [1, 200], yDom: [0.03, 0.1],
    xTicks: xTicks200, yTicks: yTicksB, xMinor: 5, yMinor: 0.002,
    ylabel: "Loss", ylabX: 629, capX: 904.5, caption: "(b) MNIST-FFNN-Train-Loss",
    legend: Object.assign({ x: 947.5, y: 30, w: 217.5, h: 110 }, bigLegend),
    series: [
      { name: "SGLD", ys: bSgld, x0: 1, step: 1 },
      { name: "SVRG-LD", xs: bSvrgX, ys: bSvrgY, curve: d3.curveMonotoneX },
      { name: "vrSG-MCMC", ys: bVr, x0: 1, step: 1 }
    ]
  },
  {
    box: [82, 578, 511.7, 882.3], xDom: [1, 600], yDom: [35, 60],
    xTicks: xTicks600, yTicks: yTicksC, xMinor: 10, yMinor: 0.5,
    ylabel: "Error Rate (%)", ylabX: 35, capX: 305.5, caption: "(c) CIFAR10-FFNN-Train-Error",
    legend: Object.assign({ x: 346.7, y: 523.3, w: 220.2, h: 111.7 }, bigLegend),
    series: [
      { name: "SGLD", ys: cSgld, x0: 1, step: 2 },
      { name: "SVRG-LD", xs: cSvrgX, ys: cSvrgY, curve: d3.curveMonotoneX },
      { name: "vrSG-MCMC", ys: cVr, x0: 1, step: 3 }
    ]
  },
  {
    box: [685, 1178, 513.3, 880.8], xDom: [1, 600], yDom: [1.15, 1.6],
    xTicks: xTicks600, yTicks: yTicksD, xMinor: 10, yMinor: 0.01,
    ylabel: "Loss", ylabX: 629, capX: 904, caption: "(d) CIFAR10-FFNN-Train-Loss",
    legend: Object.assign({ x: 948.2, y: 524.3, w: 218.5, h: 110.7 }, bigLegend),
    series: [
      { name: "SGLD", ys: dSgld, x0: 1, step: 2 },
      { name: "SVRG-LD", xs: dSvrgX, ys: dSvrgY, curve: d3.curveStepAfter },
      { name: "vrSG-MCMC", ys: dVr, x0: 1, step: 2 }
    ]
  },
  {
    box: [81, 579, 1007.3, 1378], xDom: [0, 100], yDom: [0, 50],
    xTicks: xTicksE, yTicks: yTicksE, xMinor: 2, yMinor: 1,
    ylabel: "Error Rate (%)", ylabX: 34, capX: 306, caption: "(e) CIFAR10-CNN-L4-Test-Error",
    legend: Object.assign({ x: 387.3, y: 1018.3, w: 181.4, h: 60 }, smallLegend),
    series: [
      { name: "SGLD", ys: eSgld, x0: 1, step: 1 },
      { name: "vrSG-MCMC", ys: eVr, x0: 1, step: 0.5 }
    ]
  },
  {
    box: [685.5, 1179, 1008.3, 1377.3], xDom: [1, 100], yDom: [0, 1.5],
    xTicks: xTicksF, yTicks: yTicksF, xMinor: 2, yMinor: 0.05,
    ylabel: "Loss", ylabX: 629, capX: 904.5, caption: "(f) CIFAR10-CNN-L4-Test-Loss",
    legend: Object.assign({ x: 988.7, y: 1020, w: 179.6, h: 60 }, smallLegend),
    series: [
      { name: "SGLD", ys: fSgld, x0: 1, step: 1 },
      { name: "vrSG-MCMC", ys: fVr, x0: 1, step: 0.5 }
    ]
  }
];

const fmt = d3.format("~g");

function minorValues(dom, step, majors) {
  const k0 = Math.ceil(dom[0] / step - 1e-9), k1 = Math.floor(dom[1] / step + 1e-9);
  return d3.range(k0, k1 + 1).map(k => k * step)
    .filter(v => !majors.some(t => Math.abs(t - v) < step * 1e-3));
}

panels.forEach((p, pi) => {
  const [left, right, top, bottom] = p.box;
  const x = d3.scaleLinear().domain(p.xDom).range([left, right]);
  const y = d3.scaleLinear().domain(p.yDom).range([bottom, top]);
  const g = svg.append("g");

  // minor grid (dotted)
  const grid = g.append("g");
  grid.selectAll(".mx").data(minorValues(p.xDom, p.xMinor, p.xTicks)).join("line")
    .attr("x1", d => x(d)).attr("x2", d => x(d)).attr("y1", top).attr("y2", bottom)
    .attr("stroke", "#cfcfcf").attr("stroke-width", 1).attr("stroke-dasharray", "1 2");
  grid.selectAll(".my").data(minorValues(p.yDom, p.yMinor, p.yTicks)).join("line")
    .attr("y1", d => y(d)).attr("y2", d => y(d)).attr("x1", left).attr("x2", right)
    .attr("stroke", "#cfcfcf").attr("stroke-width", 1).attr("stroke-dasharray", "1 2");
  // major grid
  grid.selectAll(".gx").data(p.xTicks).join("line")
    .attr("x1", d => x(d)).attr("x2", d => x(d)).attr("y1", top).attr("y2", bottom)
    .attr("stroke", "#dedede").attr("stroke-width", 1.2);
  grid.selectAll(".gy").data(p.yTicks).join("line")
    .attr("y1", d => y(d)).attr("y2", d => y(d)).attr("x1", left).attr("x2", right)
    .attr("stroke", "#dedede").attr("stroke-width", 1.2);

  // data lines, clipped to the plot box
  const clipId = "clip" + pi;
  g.append("clipPath").attr("id", clipId).append("rect")
    .attr("x", left).attr("y", top).attr("width", right - left).attr("height", bottom - top);
  const lines = g.append("g").attr("clip-path", `url(#${clipId})`);
  p.series.forEach(s => {
    const pts = s.xs ? s.xs.map((v, i) => [v, s.ys[i]]) : s.ys.map((v, i) => [s.x0 + i * s.step, v]);
    const line = d3.line().x(d => x(d[0])).y(d => y(d[1])).curve(s.curve || d3.curveLinear);
    lines.append("path").datum(pts)
      .attr("d", line).attr("fill", "none")
      .attr("stroke", col[s.name]).attr("stroke-width", 2)
      .attr("stroke-linejoin", "round");
  });

  // axes
  const xa = g.append("g").attr("transform", `translate(0,${bottom})`)
    .call(d3.axisBottom(x).tickValues(p.xTicks).tickFormat(fmt)
      .tickSizeInner(-5).tickSizeOuter(0).tickPadding(16));
  const ya = g.append("g").attr("transform", `translate(${left},0)`)
    .call(d3.axisLeft(y).tickValues(p.yTicks).tickFormat(fmt)
      .tickSizeInner(-5).tickSizeOuter(0).tickPadding(10));
  [xa, ya].forEach(a => {
    a.attr("font-family", SANS).attr("font-size", 25);
    a.select(".domain").attr("stroke", AX).attr("stroke-width", 1.2);
    a.selectAll(".tick line").attr("stroke", AX).attr("stroke-width", 1.2);
    a.selectAll(".tick text").attr("fill", AX);
  });

  // axis labels
  g.append("text").attr("x", (left + right) / 2).attr("y", bottom + 67)
    .attr("text-anchor", "middle").attr("font-family", SANS).attr("font-size", 26)
    .attr("fill", AX).text("#Data Pass");
  g.append("text")
    .attr("transform", `translate(${p.ylabX},${(top + bottom) / 2}) rotate(-90)`)
    .attr("text-anchor", "middle").attr("font-family", SANS).attr("font-size", 26)
    .attr("fill", AX).text(p.ylabel);

  // caption
  g.append("text").attr("x", p.capX).attr("y", bottom + 103)
    .attr("text-anchor", "middle").attr("font-family", SERIF).attr("font-size", 26.5)
    .attr("fill", "#000").text(p.caption);

  // legend
  const L = p.legend;
  const lg = g.append("g");
  lg.append("rect").attr("x", L.x).attr("y", L.y).attr("width", L.w).attr("height", L.h)
    .attr("fill", "#fff").attr("stroke", AX).attr("stroke-width", 1.2);
  p.series.forEach((s, i) => {
    const cy = L.y + L.r0 + i * L.dr;
    lg.append("line").attr("x1", L.x + L.l0).attr("x2", L.x + L.l1)
      .attr("y1", cy).attr("y2", cy).attr("stroke", col[s.name]).attr("stroke-width", 2);
    lg.append("text").attr("x", L.x + L.tx).attr("y", cy).attr("dy", "0.36em")
      .attr("font-family", SANS).attr("font-size", L.fs).attr("fill", "#000").text(s.name);
  });
});
</script>
</body>
</html>
